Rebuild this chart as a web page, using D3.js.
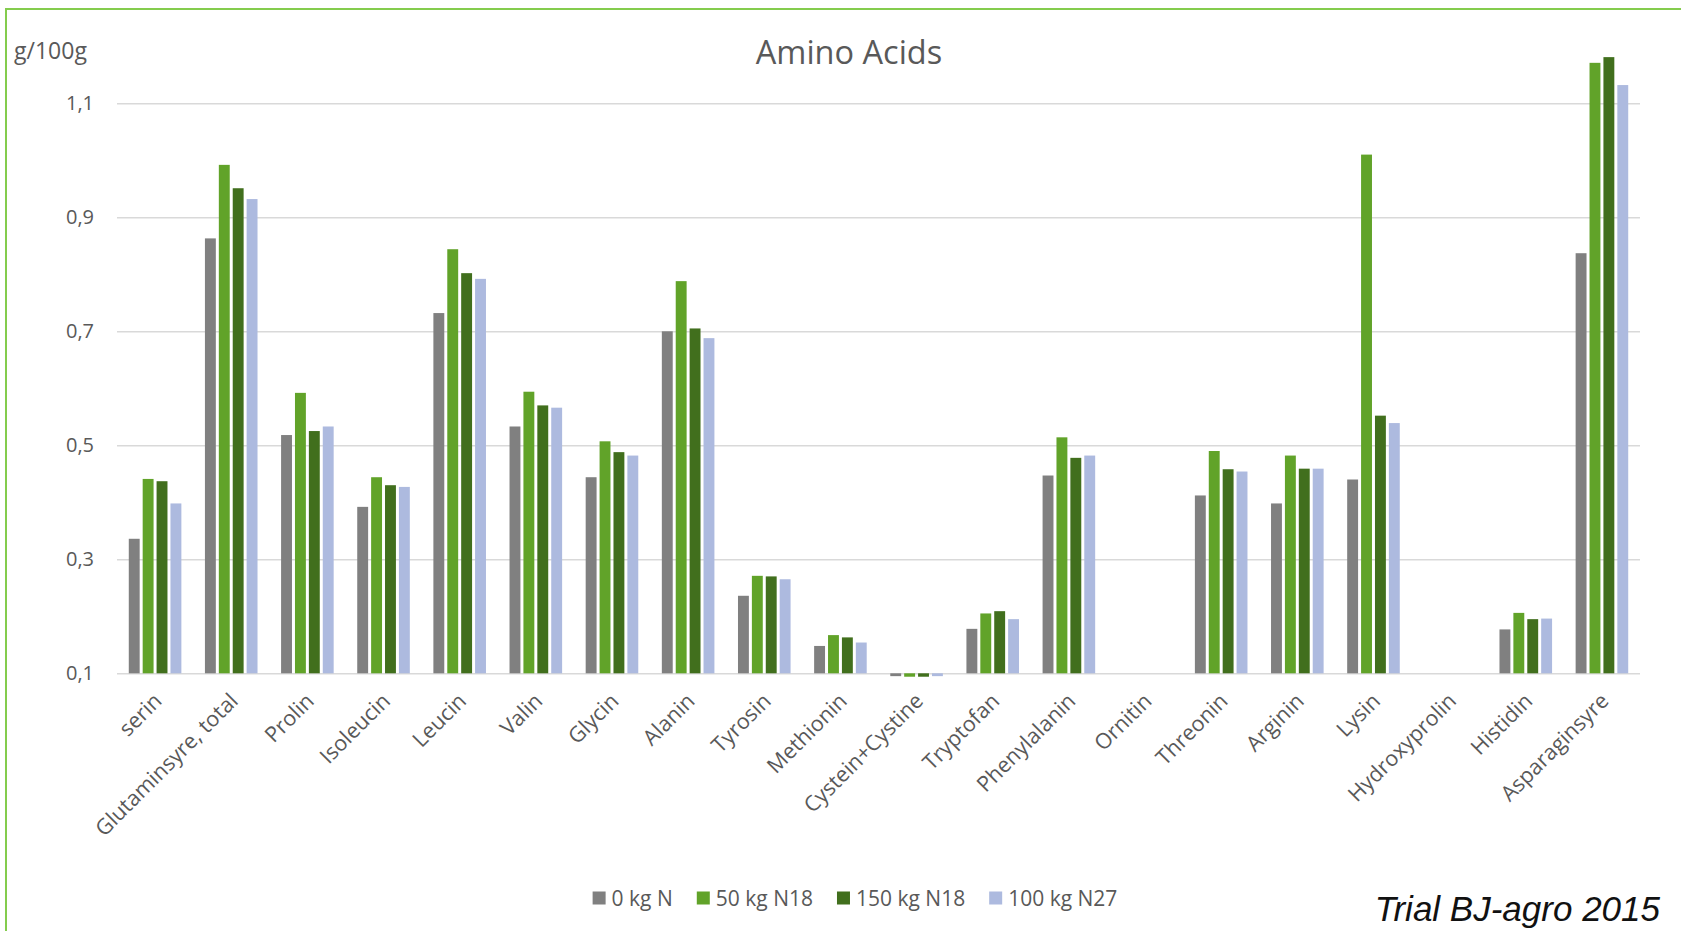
<!DOCTYPE html>
<html>
<head>
<meta charset="utf-8">
<script src="https://cdn.jsdelivr.net/npm/d3@7"></script>
<style>
  html, body { margin: 0; padding: 0; background: #fff; }
  svg { display: block; }
</style>
</head>
<body>
<svg id="chart" width="1681" height="931"></svg>
<script>
// ---------- DATA ----------
const categories = ["serin", "Glutaminsyre, total", "Prolin", "Isoleucin", "Leucin", "Valin", "Glycin", "Alanin", "Tyrosin", "Methionin", "Cystein+Cystine", "Tryptofan", "Phenylalanin", "Ornitin", "Threonin", "Arginin", "Lysin", "Hydroxyprolin", "Histidin", "Asparaginsyre"];
const seriesNames = ["0 kg N", "50 kg N18", "150 kg N18", "100 kg N27"];
const s0kgN     = [0.336, 0.863, 0.518, 0.392, 0.732, 0.533, 0.444, 0.700, 0.236, 0.148, 0.095, 0.178, 0.447, null, 0.412, 0.398, 0.440, null, 0.177, 0.837];
const s50kgN18  = [0.441, 0.992, 0.592, 0.444, 0.844, 0.594, 0.507, 0.788, 0.271, 0.167, 0.094, 0.205, 0.514, null, 0.490, 0.482, 1.010, null, 0.206, 1.171];
const s150kgN18 = [0.437, 0.951, 0.525, 0.430, 0.802, 0.570, 0.488, 0.705, 0.270, 0.163, 0.094, 0.209, 0.478, null, 0.458, 0.459, 0.552, null, 0.195, 1.181];
const s100kgN27 = [0.398, 0.932, 0.533, 0.427, 0.792, 0.566, 0.482, 0.688, 0.265, 0.154, 0.095, 0.195, 0.482, null, 0.454, 0.459, 0.539, null, 0.196, 1.132];
const yTicks = [0.1, 0.3, 0.5, 0.7, 0.9, 1.1];
const yTickLabels = ["0,1", "0,3", "0,5", "0,7", "0,9", "1,1"];
const yDomain = [0.1, 1.2];
const titleText = "Amino Acids";
const unitText = "g/100g";
const noteText = "Trial BJ-agro 2015";
const colors = ["#808080", "#61A329", "#416F1D", "#ADBADF"];

// ---------- LAYOUT ----------
const seriesValues = [s0kgN, s50kgN18, s150kgN18, s100kgN27];
const rows = categories.map((c, i) => ({
  cat: c,
  vals: seriesNames.map((s, k) => ({ key: s, k: k, v: seriesValues[k][i] }))
}));

const svg = d3.select("#chart");
const FONT = "'Open Sans', 'Noto Sans', sans-serif";
const TXT = "#595959";

const plotL = 117, plotR = 1640, plotB = 673.3, plotT = 46.3;

// chart border
svg.append("rect")
  .attr("x", 6).attr("y", 9).attr("width", 1720).attr("height", 1000)
  .attr("fill", "none").attr("stroke", "#84CC4E").attr("stroke-width", 2);

const x0 = d3.scaleBand().domain(categories).range([plotL, plotR]).paddingInner(0.27).paddingOuter(0.135);
const x1 = d3.scaleBand().domain(seriesNames).range([0, x0.bandwidth()]);
const y = d3.scaleLinear().domain(yDomain).range([plotB, plotT]);

// Y axis with gridlines
const yAxis = svg.append("g")
  .attr("transform", `translate(${plotL},0)`)
  .call(d3.axisLeft(y).tickValues(yTicks).tickFormat((d, i) => yTickLabels[i])
    .tickSize(-(plotR - plotL)).tickPadding(23));
yAxis.select(".domain").remove();
yAxis.selectAll(".tick line").attr("stroke", "#D9D9D9").attr("stroke-width", 1.6);
yAxis.selectAll(".tick text").attr("fill", TXT).style("font-family", FONT).style("font-size", "20px");

// bars
const groups = svg.append("g").selectAll("g").data(rows).join("g")
  .attr("transform", d => `translate(${x0(d.cat)},0)`);
groups.selectAll("rect").data(d => d.vals.filter(e => e.v !== null)).join("rect")
  .attr("x", d => x1(d.key) + 1.5)
  .attr("width", x1.bandwidth() - 3)
  .attr("y", d => Math.min(y(d.v), y(yDomain[0])))
  .attr("height", d => Math.abs(y(yDomain[0]) - y(d.v)))
  .attr("fill", d => colors[d.k]);

// X axis labels
const xAxis = svg.append("g")
  .attr("transform", `translate(0,${plotB})`)
  .call(d3.axisBottom(x0).tickSize(0).tickPadding(0));
xAxis.select(".domain").remove();
xAxis.selectAll(".tick text")
  .attr("fill", TXT).style("font-family", FONT).style("font-size", "21.5px")
  .attr("text-anchor", "end")
  .attr("dy", null)
  .attr("transform", "translate(8,29) rotate(-45)");

// title
svg.append("text").attr("x", 849).attr("y", 64).attr("text-anchor", "middle")
  .attr("fill", TXT).style("font-family", FONT).style("font-size", "32.5px").text(titleText);

// unit
svg.append("text").attr("x", 14).attr("y", 59)
  .attr("fill", TXT).style("font-family", FONT).style("font-size", "23px").text(unitText);

// legend
const leg = svg.append("g");
let lx = 0;
seriesNames.forEach((s, k) => {
  const g = leg.append("g");
  g.append("rect").attr("x", 0).attr("y", -6.5).attr("width", 13).attr("height", 13).attr("fill", colors[k]);
  const t = g.append("text").attr("x", 19).attr("y", 7.5)
    .attr("fill", TXT).style("font-family", FONT).style("font-size", "21px").text(s);
  const w = t.node().getComputedTextLength();
  g.attr("transform", `translate(${lx},0)`);
  lx += 19 + w + 24;
});
const legW = lx - 24;
leg.attr("transform", `translate(${855 - legW / 2},898)`);

// note
svg.append("text").attr("x", 1660).attr("y", 921).attr("text-anchor", "end")
  .attr("fill", "#111").style("font-family", "'Liberation Sans', Arial, sans-serif")
  .style("font-style", "italic").style("font-size", "35px").text(noteText);
</script>
</body>
</html>
